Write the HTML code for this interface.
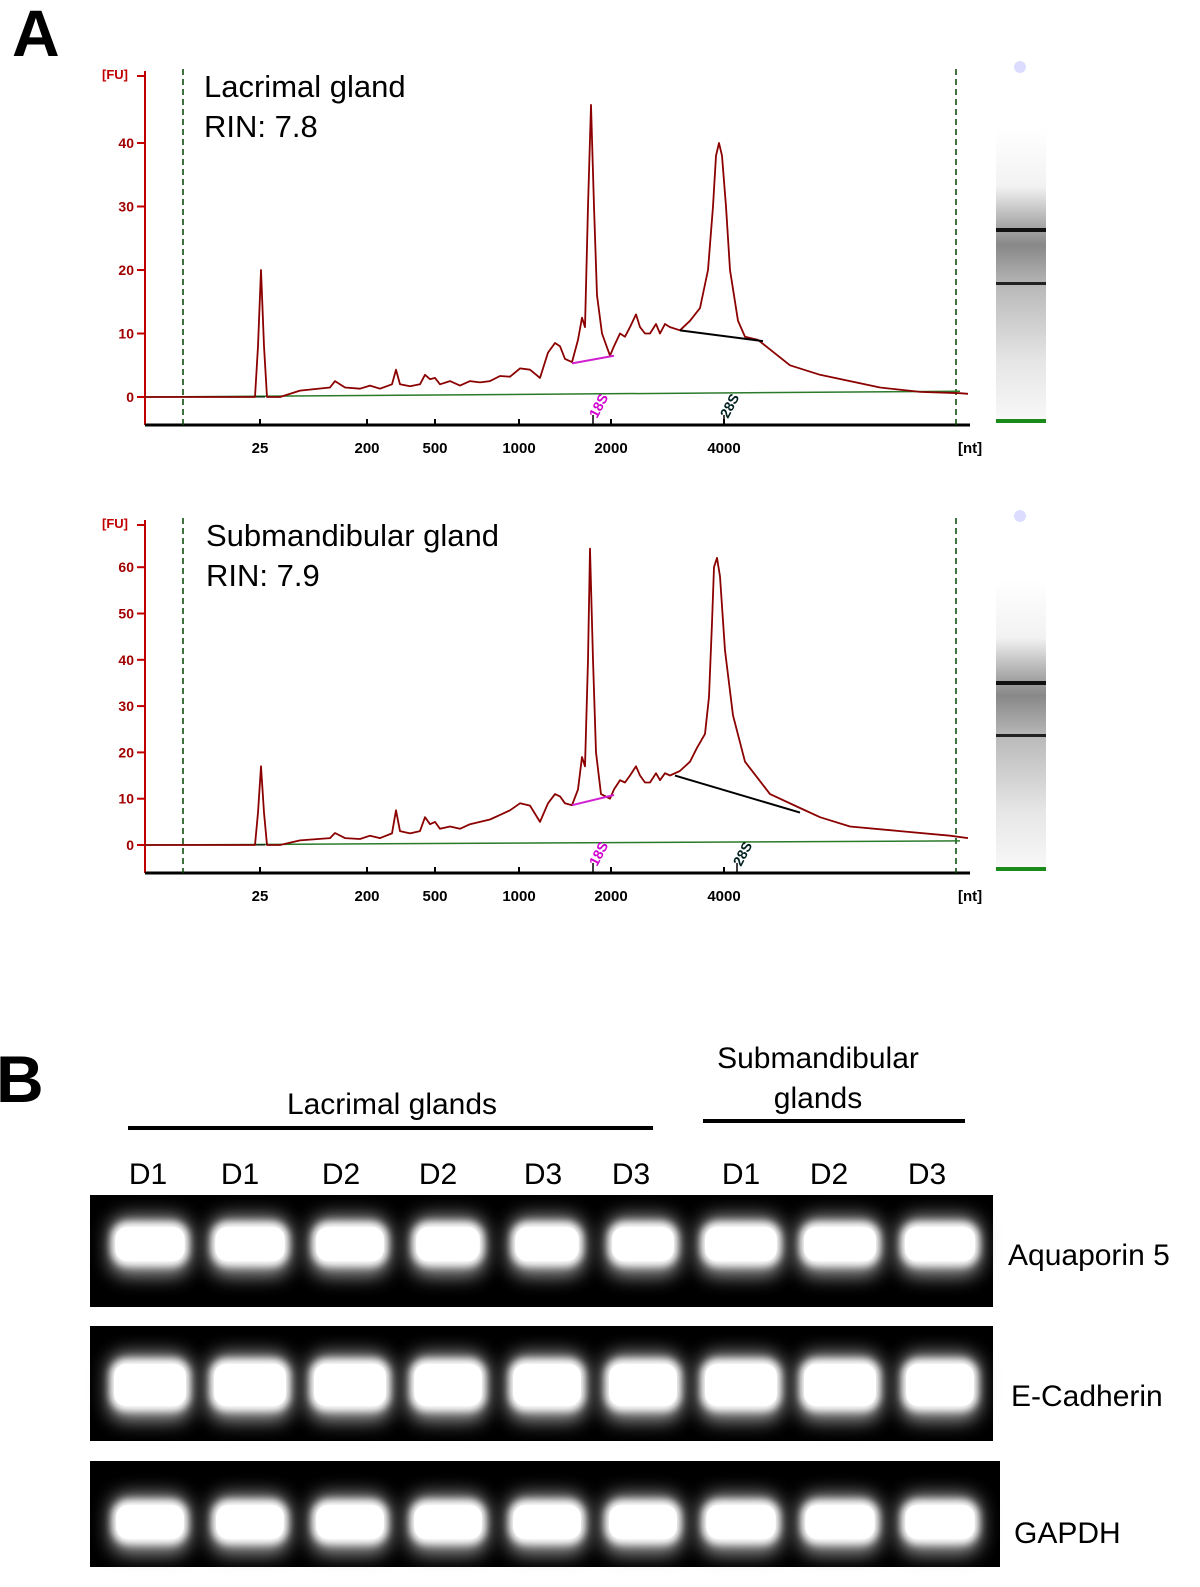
<!DOCTYPE html>
<html><head><meta charset="utf-8"><style>
body{margin:0;background:#fff;}
svg{display:block;font-family:"Liberation Sans",sans-serif;}
</style></head><body>
<svg id="fig" width="1200" height="1587" viewBox="0 0 1200 1587">
<defs>
<filter id="blur" x="-30%" y="-60%" width="160%" height="220%"><feGaussianBlur stdDeviation="4"/></filter>
<filter id="glow" x="-30%" y="-80%" width="160%" height="260%"><feGaussianBlur stdDeviation="9"/></filter>
<linearGradient id="strip" x1="0" y1="0" x2="0" y2="1">
<stop offset="0" stop-color="#fff"/><stop offset="0.2" stop-color="#f2f2f2"/><stop offset="0.33" stop-color="#aaa"/><stop offset="0.4" stop-color="#888"/><stop offset="0.55" stop-color="#bbb"/><stop offset="0.8" stop-color="#e6e6e6"/><stop offset="1" stop-color="#f8f8f8"/>
</linearGradient>
</defs>
<text x="12" y="56" font-size="66" font-weight="bold">A</text>
<text x="-4" y="1102" font-size="66" font-weight="bold">B</text>
<g id="charts"></g>
<g id="gels"></g>
</svg>
<script>
// ---- Electropherogram data (x in migration units 0..825, y in FU) ----
const ladderLabels = ["25","200","500","1000","2000","4000"];
const ladderPos = [115,222,290,374,466,579];
const topX = [0,110,113,116,119,122,135,155,185,190,200,215,225,235,247,251,255,265,275,280,285,290,295,305,315,325,335,345,355,365,375,385,395,403,410,415,420,427,433,437,440,443,446,449,452,457,465,469,475,480,485,491,495,500,505,511,515,520,525,535,545,555,563,568,571,574,577,581,585,593,600,613,625,645,675,705,735,775,815,823];
const topY = [0,0,8,20,8,0,0,1,1.5,2.5,1.5,1.3,1.8,1.3,2,4.3,2,1.7,2,3.5,2.8,3,2,2.5,1.8,2.5,2.3,2.5,3.3,3.2,4.5,4.3,3,7,8.5,8,6,5.5,9,12.5,11,30,46,30,16,10,6.5,8,10,9.5,11,13,11,10,10,11.5,10,11.5,11,10.5,12,14,20,30,38,40,38,30,20,12,9.5,9,7.5,5,3.5,2.5,1.5,0.8,0.6,0.5];
const botX = [0,110,113,116,119,122,135,155,185,190,200,215,225,235,247,251,255,265,275,280,285,290,295,305,315,325,335,345,355,365,375,385,395,403,410,415,420,427,433,437,440,443,445,448,451,456,465,469,475,480,485,491,495,500,505,511,515,520,525,535,545,552,560,564,567,569,572,575,580,588,600,625,655,675,705,755,805,823];
const botY = [0,0,7,17,7,0,0,1,1.5,2.6,1.5,1.3,2,1.5,2.5,7.5,3,2.5,3,6,4.5,5,3.5,4,3.5,4.5,5,5.5,6.5,7.5,9,8.5,5,9,11,10.5,9,8.6,12,19,17,40,64,40,20,11,10,12,14,13.5,15,17,15,13.5,13.5,15.5,14,15.5,15,16,18,21,24,32,48,60,62,58,42,28,18,11,8,6,4,3,2,1.5,1];
const topFuTicks = [0,10,20,30,40];
const botFuTicks = [0,10,20,30,40,50,60];

const NS="http://www.w3.org/2000/svg";
function mk(tag, attrs, parent){const e=document.createElementNS(NS,tag);for(const k in attrs)e.setAttribute(k,attrs[k]);parent.appendChild(e);return e;}

function drawChart(cfg){
  const g=mk('g',{},document.getElementById('charts'));
  
  
  const x0=145, x1=970;
  const xs=v=>x0+v*(x1-x0)/825;
  const ys=v=>cfg.zeroY - v*cfg.ppu;
  const t1=mk('text',{x:cfg.titleX,y:cfg.top+24,'font-size':31},g);t1.textContent=cfg.title;
  
  
  const t2=mk('text',{x:cfg.titleX,y:cfg.top+64,'font-size':31},g);t2.textContent=cfg.rin;
  
  
  const ya=mk('line',{x1:x0,y1:cfg.top-2,x2:x0,y2:cfg.axisY,stroke:'#c00000','stroke-width':2},g);
  
  
  const fu=mk('text',{x:102,y:cfg.top+6,'font-size':13,'font-weight':'bold',fill:'#c00000'},g);fu.textContent='[FU]';
  
  
  mk('line',{x1:137,y1:cfg.top+3,x2:x0,y2:cfg.top+3,stroke:'#c00000','stroke-width':2},g);
  cfg.ticks.forEach(v=>{
    mk('line',{x1:137,y1:ys(v),x2:x0,y2:ys(v),stroke:'#c00000','stroke-width':2},g);
    const tx=mk('text',{x:134,y:ys(v)+5,'font-size':14,'font-weight':'bold',fill:'#a00000','text-anchor':'end'},g);tx.textContent=v;
    
    
  });
  const xa=mk('line',{x1:x0,y1:cfg.axisY,x2:x1,y2:cfg.axisY,stroke:'#000','stroke-width':3},g);
  
  
  ladderLabels.forEach((l,i)=>{
    mk('line',{x1:xs(ladderPos[i]),y1:cfg.axisY-6,x2:xs(ladderPos[i]),y2:cfg.axisY,stroke:'#000','stroke-width':2},g);
    const tx=mk('text',{x:xs(ladderPos[i]),y:cfg.axisY+28,'font-size':15,'font-weight':'bold','text-anchor':'middle'},g);tx.textContent=l;
    
    
  });
  const nt=mk('text',{x:958,y:cfg.axisY+28,'font-size':15,'font-weight':'bold'},g);nt.textContent='[nt]';
  
  
  [38,811].forEach(v=>{
    const d=mk('line',{x1:xs(v),y1:cfg.top-4,x2:xs(v),y2:cfg.axisY,stroke:'#004400','stroke-width':1.5,'stroke-dasharray':'6,4'},g);
    
    
  });
  mk('line',{x1:x0,y1:ys(0),x2:xs(815),y2:ys(0.9),stroke:'#2a7a2a','stroke-width':1.5},g);
  mk('line',{x1:x0,y1:ys(0),x2:xs(120),y2:ys(0),stroke:'#000','stroke-width':1},g);
  let d='';cfg.xv.forEach((v,i)=>{d+=(i?'L':'M')+xs(v).toFixed(1)+','+ys(cfg.yv[i]).toFixed(1);});
  const tr=mk('path',{d:d,fill:'none',stroke:'#8b0000','stroke-width':1.8,'stroke-linejoin':'round'},g);
  
  
  const m=mk('line',{x1:xs(cfg.s18[0]),y1:ys(cfg.s18[1]),x2:xs(cfg.s18[2]),y2:ys(cfg.s18[3]),stroke:'#d020d0','stroke-width':2},g);
  
  
  const b=mk('line',{x1:xs(cfg.s28[0]),y1:ys(cfg.s28[1]),x2:xs(cfg.s28[2]),y2:ys(cfg.s28[3]),stroke:'#000','stroke-width':2},g);
  
  
  [[448,'18S','#d000d0'],[cfg.p28,'28S','#002020']].forEach(p=>{
    mk('line',{x1:xs(p[0]),y1:cfg.axisY-10,x2:xs(p[0]),y2:cfg.axisY,stroke:'#000','stroke-width':1.5},g);
    const tx=mk('text',{x:xs(p[0])+4,y:cfg.axisY-6,'font-size':14,'font-weight':'bold',fill:p[2],transform:`rotate(-62 ${xs(p[0])+4} ${cfg.axisY-6})`},g);tx.textContent=p[1];
    
    
  });
  const st=mk('rect',{x:996,y:cfg.stripTop,width:50,height:cfg.axisY-cfg.stripTop-4,fill:'url(#strip)'},g);
  
  
  mk('rect',{x:996,y:cfg.band1,width:50,height:4,fill:'#111'},g);
  mk('rect',{x:996,y:cfg.band2,width:50,height:3,fill:'#222'},g);
  mk('rect',{x:996,y:cfg.axisY-6,width:50,height:4,fill:'#1a8a1a'},g);
  mk('circle',{cx:1020,cy:cfg.top-6,r:6,fill:'#dcdcff'},g);
}
drawChart({name:'lacrimal-electropherogram',title:'Lacrimal gland',rin:'RIN: 7.8',titleX:204,top:73,axisY:425,zeroY:397,ppu:6.35,ticks:topFuTicks,xv:topX,yv:topY,s18:[427,5.3,469,6.5],s28:[535,10.5,618,8.8],p28:579,stripTop:128,band1:228,band2:282});
drawChart({name:'submandibular-electropherogram',title:'Submandibular gland',rin:'RIN: 7.9',titleX:206,top:522,axisY:873,zeroY:845,ppu:4.63,ticks:botFuTicks,xv:botX,yv:botY,s18:[427,8.6,469,10.8],s28:[530,15,655,7],p28:592,stripTop:580,band1:681,band2:734});

// ---- Gel data ----
const laneLabels=["D1","D1","D2","D2","D3","D3","D1","D2","D3"];
const laneCenters=[150,250,350,448,547,643,741,840,940];
const laneLabelX=[148,240,341,438,543,631,741,829,927];
const geneNames=["Aquaporin 5","E-Cadherin","GAPDH"];
const bandIntensity=[[0.97,0.97,0.95,0.9,0.9,0.88,1,1,0.98],[1,1,1,0.95,0.95,0.95,1,1,0.95],[0.95,0.95,0.95,0.95,0.95,0.95,0.97,0.97,0.97]];
const gg=document.getElementById('gels');
const rows=[{y:1195,h:112,w:903,cy:1244,bh:44},{y:1326,h:115,w:903,cy:1385,bh:52},{y:1461,h:106,w:910,cy:1522,bh:44}];
const tl=mk('text',{x:392,y:1114,'font-size':30,'text-anchor':'middle'},gg);tl.textContent='Lacrimal glands';


mk('line',{x1:128,y1:1128,x2:653,y2:1128,stroke:'#000','stroke-width':4},gg);
const ts=mk('text',{x:818,y:1068,'font-size':30,'text-anchor':'middle'},gg);ts.textContent='Submandibular';


const ts2=mk('text',{x:818,y:1108,'font-size':30,'text-anchor':'middle'},gg);ts2.textContent='glands';
mk('line',{x1:703,y1:1121,x2:965,y2:1121,stroke:'#000','stroke-width':4},gg);
laneLabels.forEach((l,i)=>{
  const t=mk('text',{x:laneLabelX[i],y:1184,'font-size':30,'text-anchor':'middle'},gg);t.textContent=l;
  
  
});
rows.forEach((r,ri)=>{
  const bg=mk('rect',{x:90,y:r.y,width:r.w,height:r.h,fill:'#000'},gg);
  
  
  laneCenters.forEach((c,i)=>{
    const bw=84*bandIntensity[ri][i];
    const gl=mk('rect',{x:c-bw/2,y:r.cy-r.bh/2-6,width:bw,height:r.bh+16,rx:18,fill:'#9a9a9a',filter:'url(#glow)'},gg);
    const b=mk('rect',{x:c-bw/2+2,y:r.cy-r.bh/2,width:bw-4,height:r.bh,rx:16,fill:'#fff',filter:'url(#blur)'},gg);
    
    
    mk('rect',{x:c-bw/2+6,y:r.cy-r.bh/2+5,width:bw-12,height:r.bh-10,rx:12,fill:'#fff'},gg);
  });
  const gt=mk('text',{x:ri==2?1014:(ri==1?1011:1008),y:r.cy+21,'font-size':30},gg);gt.textContent=geneNames[ri];
  
  
});
</script>
</body></html>
